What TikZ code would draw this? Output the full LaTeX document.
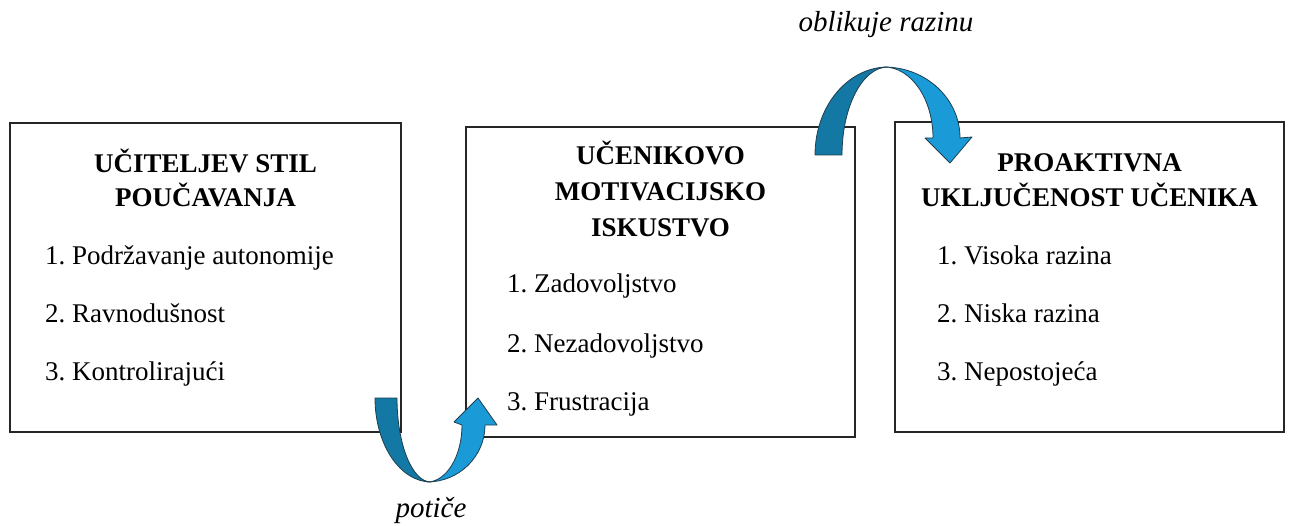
\documentclass[tikz,border=0pt]{standalone}
\usepackage{fontspec}
\setmainfont{Liberation Serif}
\definecolor{bandDark}{HTML}{1478A5}
\definecolor{bandLight}{HTML}{1A9BD7}
\definecolor{bandEdge}{HTML}{1F3F4F}
\begin{document}
\frenchspacing
\begin{tikzpicture}[x=1pt,y=-1pt,
  box/.style={draw=black!85, line width=2pt, rectangle, inner sep=0pt},
  ttl/.style={font=\fontsize{27}{32}\selectfont\bfseries, anchor=base, inner sep=0pt},
  itm/.style={font=\fontsize{27}{32}\selectfont, anchor=base west, inner sep=0pt},
  lbl/.style={font=\fontsize{29}{34}\selectfont\itshape, anchor=base, inner sep=0pt},
  darkband/.style={fill=bandDark, draw=bandEdge, line width=0.8pt, line join=round},
  lightband/.style={fill=bandLight, draw=bandEdge, line width=0.8pt, line join=round}]
\useasboundingbox (0,0) rectangle (1289,526);

% boxes
\node[box, minimum width=391pt, minimum height=309pt] (b1) at (205.5,277.5) {};
\node[box, minimum width=389pt, minimum height=310pt] (b2) at (660.5,282) {};
\node[box, minimum width=389pt, minimum height=310pt] (b3) at (1089.5,277) {};

% box 1
\node[ttl] (t1a) at (205.5,173) {UČITELJEV STIL};
\node[ttl] (t1b) at (205.5,207) {POUČAVANJA};
\node[itm] (i1a) at (45,265) {1. Podržavanje autonomije};
\node[itm] (i1b) at (45,322) {2. Ravnodušnost};
\node[itm] (i1c) at (45,380) {3. Kontrolirajući};

% box 2
\node[ttl] (t2a) at (660.5,165) {UČENIKOVO};
\node[ttl] (t2b) at (660.5,201) {MOTIVACIJSKO};
\node[ttl] (t2c) at (660.5,237) {ISKUSTVO};
\node[itm] (i2a) at (507,293) {1. Zadovoljstvo};
\node[itm] (i2b) at (507,352) {2. Nezadovoljstvo};
\node[itm] (i2c) at (507,410) {3. Frustracija};

% box 3
\node[ttl] (t3a) at (1089.5,172) {PROAKTIVNA};
\node[ttl] (t3b) at (1089.5,207) {UKLJUČENOST UČENIKA};
\node[itm] (i3a) at (937,265) {1. Visoka razina};
\node[itm] (i3b) at (937,322) {2. Niska razina};
\node[itm] (i3c) at (937,380) {3. Nepostojeća};

% lower curved arrow (potiče)
\path[darkband] (375,398) .. controls (375,444.4) and (400.1,482) .. (431,482)
   .. controls (412.2,482) and (397,444.4) .. (397,398) -- cycle;
\path[lightband] (427,482) .. controls (459,482) and (485,456.5) .. (485,425)
   -- (497,425) -- (478,398) -- (454,422) -- (462,425)
   .. controls (462,456.5) and (446.3,482) .. (427,482) -- cycle;
\node[lbl] (l1) at (431,517) {potiče};

% upper curved arrow (oblikuje razinu)
\path[darkband] (815,155) .. controls (815,106.4) and (847.7,67) .. (888,67)
   .. controls (862.6,67) and (842,106.4) .. (842,155) -- cycle;
\path[lightband] (884,67) .. controls (926,67) and (960,98.8) .. (960,138)
   -- (972,137) -- (950,163) -- (925,138) -- (933,138)
   .. controls (933,98.8) and (911,67) .. (884,67) -- cycle;
\node[lbl] (l2) at (886,32) {oblikuje razinu};
\end{tikzpicture}
\end{document}
